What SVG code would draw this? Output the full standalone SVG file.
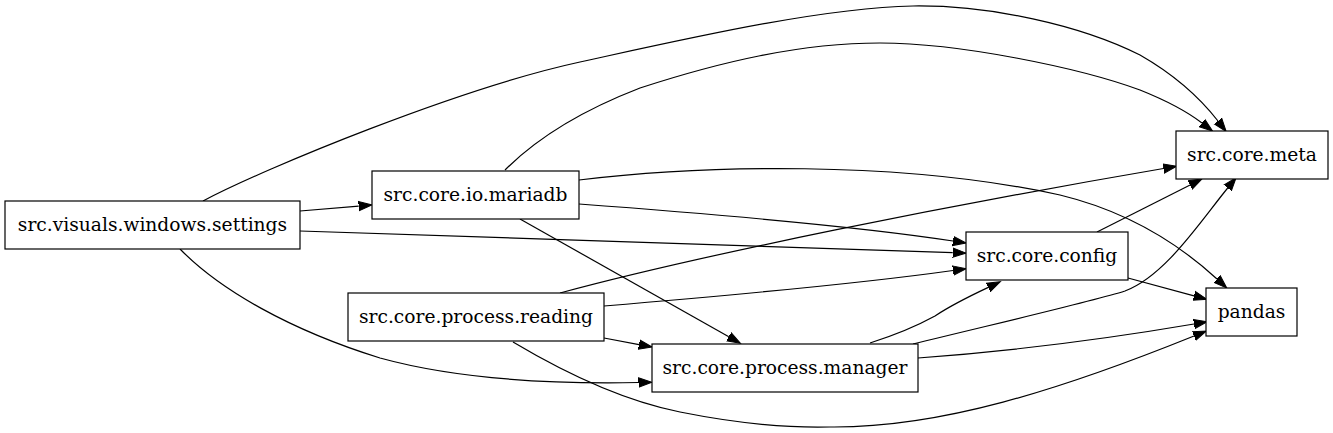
<svg xmlns="http://www.w3.org/2000/svg" width="1333" height="433" viewBox="0 0 1333 433">
<style>
.node rect{fill:#ffffff;stroke:#000000;stroke-width:1.2}
.node text{font-family:"DejaVu Serif","Liberation Serif",serif;font-size:18.67px;fill:#000000;text-anchor:middle}
.edges path{fill:none;stroke:#000000;stroke-width:1.2;marker-end:url(#arrow)}
</style>
<defs>
<marker id="arrow" markerUnits="userSpaceOnUse" markerWidth="16" markerHeight="12" refX="0" refY="5" orient="auto" viewBox="0 0 16 10">
<path d="M0,0.33 L13.3,5 L0,9.67 z" fill="#000000" stroke="#000000" stroke-width="1"/>
</marker>
</defs>
<rect width="1333" height="433" fill="#ffffff"/>
<g id="connectors" class="edges">
<path d="M203,201 C265,168 460,88 580,62 C690,38 820,8 913,6 C990,5 1080,25 1140,55 C1175,75 1200,98 1218,121"/>
<path d="M505,170 C530,145 570,115 640,88 C720,62 800,43 880,43 C960,43 1080,68 1140,90 C1165,100 1185,110 1202,123"/>
<path d="M300,211 L358.7,206.1"/>
<path d="M300,231 C500,238 800,247 952.7,252.6"/>
<path d="M180,249 C220,290 290,330 380,358 C460,380 560,384 638.5,382.5"/>
<path d="M579,180 C700,165 900,160 1060,195 C1130,212 1180,245 1217,279"/>
<path d="M579,204 C700,213 850,225 953,241"/>
<path d="M520,219 L728.8,336.7"/>
<path d="M560,293 C700,255 950,205 1163.5,168.5"/>
<path d="M604,306 C700,298 850,285 953,270.5"/>
<path d="M604,338 L639,344.6"/>
<path d="M513,342 C560,370 620,400 680,412 C740,424 790,428 830,427 C940,428 1060,390 1194,336"/>
<path d="M870,343 C895,335 915,327 935,316 C950,306 970,296 988.3,287.4"/>
<path d="M913,344 C990,325 1090,302 1125,291 C1165,276 1200,222 1227.7,188"/>
<path d="M918,358 C1000,352 1100,340 1194,324"/>
<path d="M1097,232 L1190.1,185"/>
<path d="M1128,278 L1194,295.8"/>
</g>
<g id="settings" class="node"><rect x="5" y="201" width="295" height="48"/><text x="152.5" y="231">src.visuals.windows.settings</text></g>
<g id="mariadb" class="node"><rect x="372" y="171" width="207" height="48"/><text x="475.5" y="201">src.core.io.mariadb</text></g>
<g id="reading" class="node"><rect x="348" y="293" width="256" height="48"/><text x="476" y="323">src.core.process.reading</text></g>
<g id="manager" class="node"><rect x="652" y="344" width="266" height="48"/><text x="785" y="374">src.core.process.manager</text></g>
<g id="config" class="node"><rect x="966" y="232" width="162" height="48"/><text x="1047" y="262">src.core.config</text></g>
<g id="meta" class="node"><rect x="1176" y="131" width="152" height="48"/><text x="1252" y="161">src.core.meta</text></g>
<g id="pandas" class="node"><rect x="1206" y="288" width="91" height="48"/><text x="1251.5" y="318">pandas</text></g>
</svg>
